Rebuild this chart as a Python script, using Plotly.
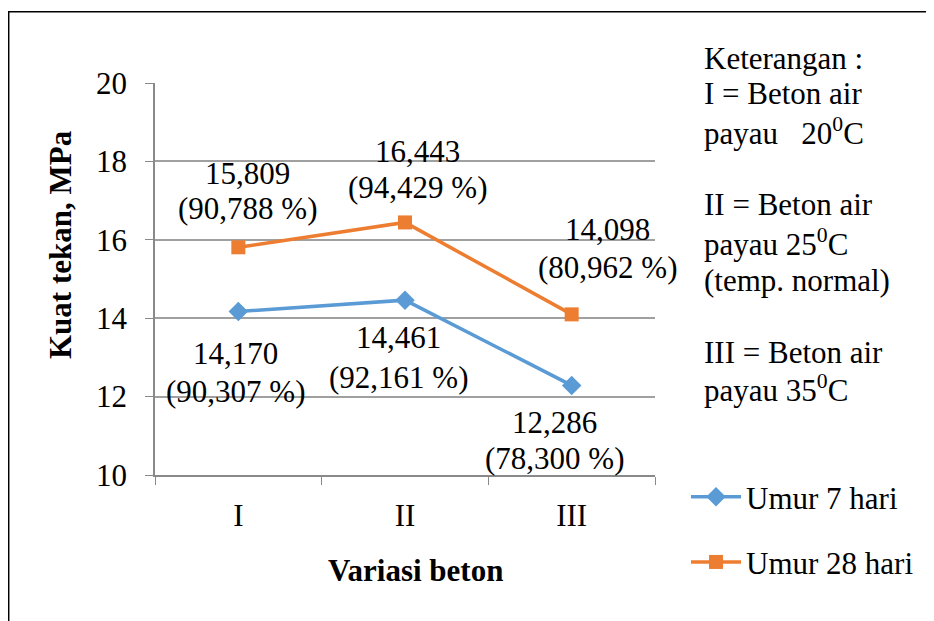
import plotly.graph_objects as go

categories = ["I", "II", "III"]
umur7 = [14.170, 14.461, 12.286]
umur28 = [15.809, 16.443, 14.098]
pct7 = [90.307, 92.161, 78.300]
pct28 = [90.788, 94.429, 80.962]
yticks = [10, 12, 14, 16, 18, 20]

FONT = "Liberation Serif, Times New Roman, serif"
BLUE = "#5B9BD5"
ORANGE = "#ED7D31"
FS = 31
TXT = dict(family=FONT, size=FS, color="black")


def fmt(v, d=3):
    return f"{v:.{d}f}".replace(".", ",")


fig = go.Figure()
fig.add_trace(go.Scatter(
    x=categories, y=umur7, mode="lines+markers", name="Umur 7 hari",
    line=dict(color=BLUE, width=3.5),
    marker=dict(symbol="diamond", size=15, color=BLUE),
    legendgroup="a",
))
fig.add_trace(go.Scatter(
    x=categories, y=umur28, mode="lines+markers", name="Umur 28 hari",
    line=dict(color=ORANGE, width=3.5),
    marker=dict(symbol="square", size=14, color=ORANGE),
    legendgroup="b",
))

ann = []
# (xshift, yshift line1, yshift line2)
shift7 = [(-3, -42, -80), (-7, -37, -77), (-17, -37, -73)]
shift28 = [(9, 74, 39), (12, 71, 35), (36, 85, 47)]
for i, c in enumerate(categories):
    for vals, pcts, sh in ((umur7, pct7, shift7), (umur28, pct28, shift28)):
        ann.append(dict(x=c, y=vals[i], xref="x", yref="y", text=fmt(vals[i]),
                        showarrow=False, xanchor="center", yanchor="middle",
                        xshift=sh[i][0], yshift=sh[i][1], font=TXT))
        ann.append(dict(x=c, y=vals[i], xref="x", yref="y",
                        text=f"({fmt(pcts[i])} %)",
                        showarrow=False, xanchor="center", yanchor="middle",
                        xshift=sh[i][0], yshift=sh[i][2], font=TXT))

# page has 8px body offset; figure is 926x613 placed at (8,8)
L, T, PW, PH = 147, 75, 500, 392
W, H = 926, 613
R = W - L - PW
B = H - T - PH


def px(x):
    return (x - 155) / PW


def py(y):
    return (475 - y) / PH


ket_lines = [
    ("Keterangan :", 58),
    ("I = Beton air", 94),
    ("payau   20<sup>0</sup>C", 131),
    ("II = Beton air", 204),
    ("payau 25<sup>0</sup>C", 242),
    ("(temp. normal)", 280),
    ("III = Beton air", 352),
    ("payau 35<sup>0</sup>C", 388),
]
for t, yy in ket_lines:
    ann.append(dict(x=px(702), y=py(yy), xref="paper", yref="paper", text=t,
                    showarrow=False, xanchor="left", yanchor="middle",
                    align="left", font=TXT))

ann.append(dict(x=px(61), y=py(245), xref="paper", yref="paper",
                text="<b>Kuat tekan, MPa</b>", textangle=-90, showarrow=False,
                xanchor="center", yanchor="middle", font=TXT))
ann.append(dict(x=px(415), y=py(570), xref="paper", yref="paper",
                text="<b>Variasi beton</b>", showarrow=False,
                xanchor="center", yanchor="middle", font=TXT))

fig.update_layout(
    width=W, height=H,
    margin=dict(l=L, r=R, t=T, b=B),
    paper_bgcolor="white", plot_bgcolor="white",
    font=TXT,
    showlegend=True,
    legend=dict(x=px(686), y=py(470), xanchor="left", yanchor="top",
                traceorder="grouped", tracegroupgap=22, itemwidth=50,
                font=TXT, bgcolor="rgba(0,0,0,0)"),
    annotations=ann,
    shapes=[dict(type="rect", xref="paper", yref="paper",
                 x0=px(8.7), x1=px(960), y0=py(650), y1=py(11.7),
                 line=dict(color="black", width=1.5), fillcolor="rgba(0,0,0,0)",
                 layer="below")],
)
fig.update_xaxes(
    type="category", range=[-0.5, 2.5],
    showline=True, linecolor="#898989", linewidth=1.5,
    ticks="outside", tickson="boundaries", ticklen=8, tickcolor="#898989",
    showgrid=False, tickfont=TXT, ticklabelstandoff=12,
)
fig.update_yaxes(
    range=[10, 20], tickvals=yticks,
    showline=True, linecolor="#898989", linewidth=1.5,
    ticks="outside", ticklen=8, tickcolor="#898989",
    showgrid=True, gridcolor="#A0A0A0", gridwidth=1.5,
    zeroline=False, tickfont=TXT, ticklabelstandoff=12,
)

fig.write_html("out.html")
